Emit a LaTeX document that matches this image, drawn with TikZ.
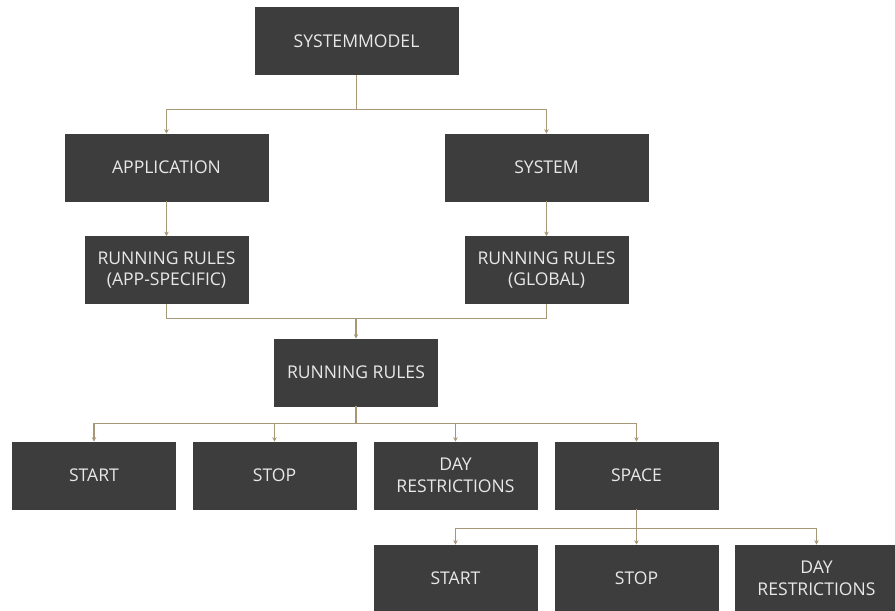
\documentclass[tikz,border=0pt]{standalone}
\usepackage{fontspec}
\setmainfont{Open Sans}
\usepackage{xcolor}
\usepackage{tikz}
\usetikzlibrary{arrows.meta}
\definecolor{fundo}{HTML}{3D3D3D}
\definecolor{texto}{HTML}{E8E8E8}
\definecolor{traco}{HTML}{A69776}
\tikzset{
  bloco/.style={draw=fundo, fill=fundo, text=texto, align=center, minimum width=#1, minimum height=1.34cm, inner sep=2pt, font=\fontsize{10}{12.5}\selectfont},
  bloco/.default=3.26cm,
  ligacao/.style={draw=traco, line width=0.6pt},
  seta/.style={ligacao, -{Stealth[length=2.6pt,width=2.6pt]}},
}

\begin{document}
\begin{tikzpicture}[x=0.02cm, y=-0.02cm]
  \clip (0,0) rectangle (895,610);
  % topo
  \node[bloco=4.06cm] (modelo) at (356.5,41) {SYSTEMMODEL};
  \node[bloco=4.06cm] (app) at (166.5,167.5) {APPLICATION};
  \node[bloco=4.06cm] (sys) at (546.5,167.5) {SYSTEM};
  \node[bloco] (rrapp) at (166.5,270) {RUNNING RULES\\(APP-SPECIFIC)};
  \node[bloco] (rrglobal) at (546.5,270) {RUNNING RULES\\(GLOBAL)};
  \node[bloco] (rr) at (356,372.5) {RUNNING RULES};
  % regras
  \foreach \n/\x/\lab in {start/94/START, stop/274.5/STOP,
      day/455.5/DAY\\RESTRICTIONS, space/636.5/SPACE}
    \node[bloco] (\n) at (\x,475.5) {\lab};
  % dentro de SPACE
  \foreach \n/\x/\lab in {spstart/455.5/START, spstop/636.5/STOP,
      spday/816.5/DAY\\RESTRICTIONS}
    \node[bloco] (\n) at (\x,578.5) {\lab};

  \draw[ligacao] (modelo.south) -- ++(0,35) coordinate (j1);
  \draw[seta] (j1) -| (app.north);
  \draw[seta] (j1) -| (sys.north);
  \draw[seta] (app.south) -- (rrapp.north);
  \draw[seta] (sys.south) -- (rrglobal.north);
  \draw[ligacao] (rrapp.south) -- ++(0,15) coordinate (j2) -| (rrglobal.south);
  \draw[seta] (j2 -| rr.north) -- (rr.north);
  \draw[ligacao] (rr.south) -- ++(0,17) coordinate (j3);
  \foreach \n in {start,stop,day,space}
    \draw[seta] (j3) -| (\n.north);
  \draw[ligacao] (space.south) -- ++(0,19) coordinate (j4);
  \foreach \n in {spstart,spstop,spday}
    \draw[seta] (j4) -| (\n.north);
\end{tikzpicture}
\end{document}
